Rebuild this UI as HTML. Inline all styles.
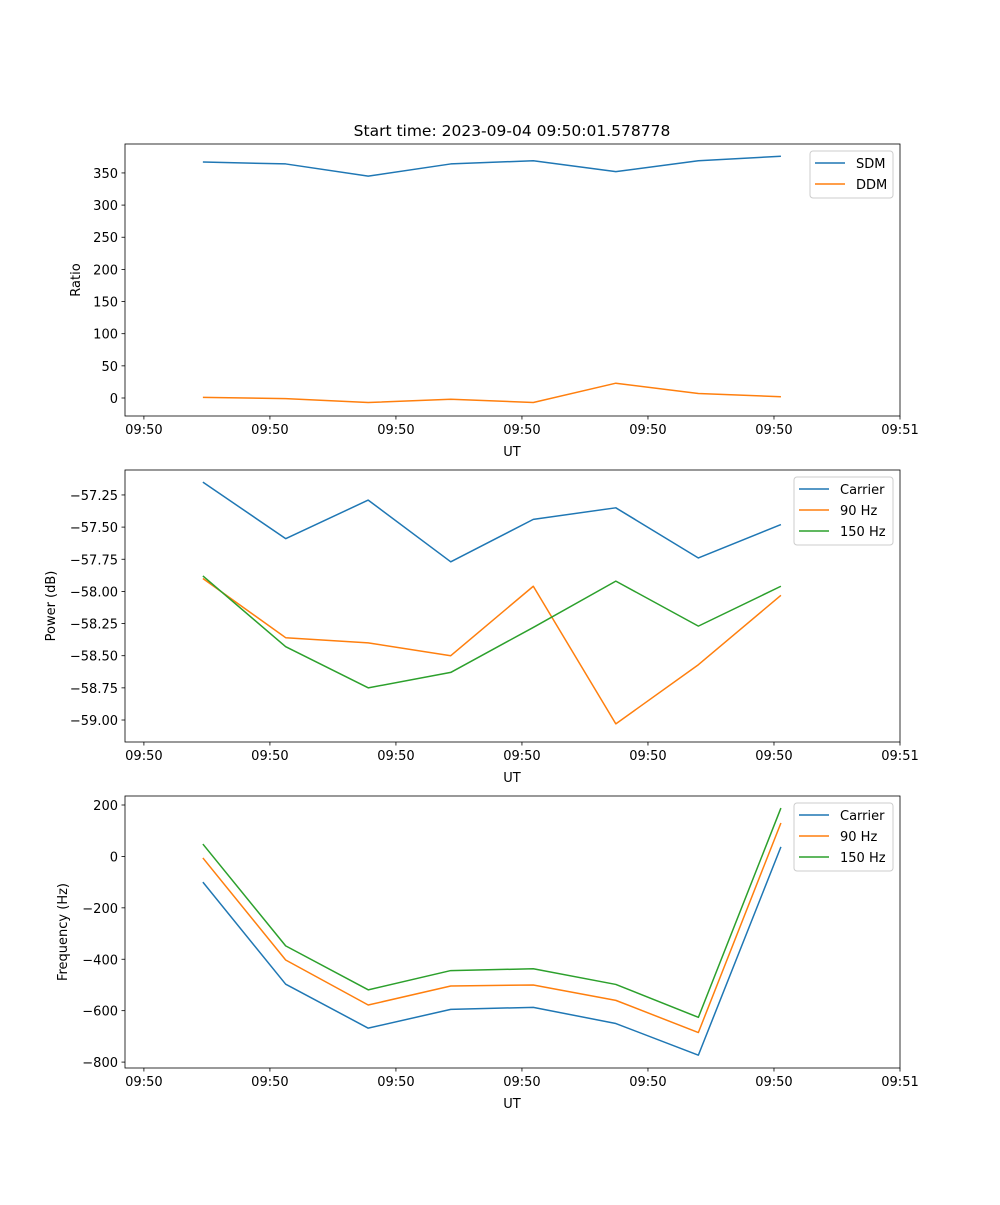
<!DOCTYPE html>
<html><head><meta charset="utf-8"><style>
body{margin:0;background:#fff}
svg text{font-family:"DejaVu Sans","Liberation Sans",sans-serif;fill:#000}
</style></head><body>
<svg id="fig" width="1000" height="1200" xmlns="http://www.w3.org/2000/svg">
<rect width="1000" height="1200" fill="#fff"/>
<text x="512" y="136" font-size="15.5" text-anchor="middle">Start time: 2023-09-04 09:50:01.578778</text>
</svg>
<script>
const times = [4.68, 11.25, 17.8, 24.35, 30.9, 37.45, 44.0, 50.55];
const xTickValues = [0, 10, 20, 30, 40, 50, 60];
const xTickLabels = ["09:50","09:50","09:50","09:50","09:50","09:50","09:51"];
const sdm = [367, 364, 345, 364, 369, 352, 369, 376];
const ddm = [1, -1, -7, -2, -7, 23, 7, 2];
const powCarrier = [-57.15, -57.59, -57.29, -57.77, -57.44, -57.35, -57.74, -57.48];
const pow90 = [-57.90, -58.36, -58.40, -58.50, -57.96, -59.03, -58.57, -58.03];
const pow150 = [-57.88, -58.43, -58.75, -58.63, -58.28, -57.92, -58.27, -57.96];
const freqCarrier = [-100, -497, -668, -595, -587, -650, -773, 37];
const freq90 = [-6, -403, -578, -504, -500, -560, -685, 130];
const freq150 = [48, -348, -519, -444, -437, -498, -626, 188];
const ratioTicks = [0, 50, 100, 150, 200, 250, 300, 350];
const powerTicks = [-59.00, -58.75, -58.50, -58.25, -58.00, -57.75, -57.50, -57.25];
const freqTicks = [-800, -600, -400, -200, 0, 200];

const NS = "http://www.w3.org/2000/svg";
const svg = document.getElementById('fig');
function el(tag, attrs, parent){const e=document.createElementNS(NS,tag);for(const k in attrs)e.setAttribute(k,attrs[k]);(parent||svg).appendChild(e);return e;}
const L=125,R=900,XMIN=-1.5,XMAX=60;
const xs = v => L + (v-XMIN)/(XMAX-XMIN)*(R-L);
const FS=13;

function panel(name, top, bottom, ymin, ymax, ticks, fmt, ylabel, ylabelX, series, legend){
  const g = el('g',{});
  
  
  const ys = v => bottom - (v-ymin)/(ymax-ymin)*(bottom-top);
  series.forEach(s=>{
    const p = el('polyline',{points:s.data.map((v,i)=>xs(times[i])+','+ys(v)).join(' '),fill:'none',stroke:s.color,'stroke-width':1.5,'stroke-linejoin':'round'},g);
    
    
  });
  const frame = el('rect',{x:L,y:top,width:R-L,height:bottom-top,fill:'none',stroke:'#000','stroke-width':0.8},g);
  
  
  xTickValues.forEach((v,i)=>{
    const x=xs(v);
    el('line',{x1:x,x2:x,y1:bottom,y2:bottom+3.5,stroke:'#000','stroke-width':0.8},g);
    const t=el('text',{x:x,y:bottom+18,'font-size':FS,'text-anchor':'middle'},g);
    t.textContent=xTickLabels[i];
    
    
  });
  const xl=el('text',{x:512,y:bottom+40,'font-size':FS,'text-anchor':'middle'},g);
  xl.textContent='UT';
  
  
  ticks.forEach(v=>{
    const y=ys(v);
    el('line',{x1:L,x2:L-3.5,y1:y,y2:y,stroke:'#000','stroke-width':0.8},g);
    const t=el('text',{x:L-7,y:y+5,'font-size':FS,'text-anchor':'end'},g);
    t.textContent=fmt(v);
    
    
  });
  const cy=(top+bottom)/2;
  const yl=el('text',{x:ylabelX,y:cy,'font-size':FS,'text-anchor':'middle',transform:'rotate(-90 '+ylabelX+' '+cy+')'},g);
  yl.textContent=ylabel;
  
  
  const lg=el('g',{},g);
  
  
  el('rect',{x:legend.x,y:top+7,width:893-legend.x,height:series.length*21+5,rx:3,fill:'#fff','fill-opacity':0.8,stroke:'#ccc','stroke-width':1},lg);
  series.forEach((s,i)=>{
    const y=top+19+i*21;
    const e=el('g',{},lg);
    
    
    el('line',{x1:legend.x+5,x2:legend.x+35,y1:y,y2:y,stroke:s.color,'stroke-width':1.5},e);
    const t=el('text',{x:legend.x+46,y:y+5,'font-size':FS},e);
    t.textContent=s.label;
  });
}
const C1='#1f77b4',C2='#ff7f0e',C3='#2ca02c';
panel('ratio',144,416,-28,395,ratioTicks,v=>String(v),'Ratio',80,
  [{key:'sdm',label:'SDM',data:sdm,color:C1},{key:'ddm',label:'DDM',data:ddm,color:C2}],{x:810});
panel('power',470,742,-59.171,-57.056,powerTicks,v=>v.toFixed(2).replace('-','−'),'Power (dB)',55,
  [{key:'carrier',label:'Carrier',data:powCarrier,color:C1},{key:'90hz',label:'90 Hz',data:pow90,color:C2},{key:'150hz',label:'150 Hz',data:pow150,color:C3}],{x:794});
panel('frequency',796,1068,-823,235,freqTicks,v=>String(v).replace('-','−'),'Frequency (Hz)',67,
  [{key:'carrier',label:'Carrier',data:freqCarrier,color:C1},{key:'90hz',label:'90 Hz',data:freq90,color:C2},{key:'150hz',label:'150 Hz',data:freq150,color:C3}],{x:794});
</script>
</body></html>
